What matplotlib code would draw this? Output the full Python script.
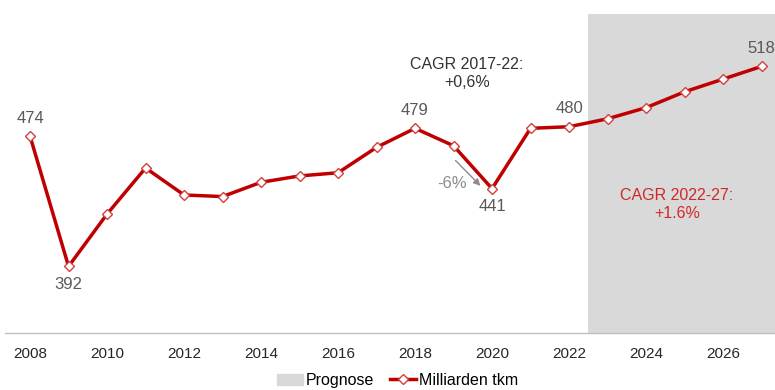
import numpy as np
import matplotlib.pyplot as plt
from matplotlib.patches import Patch
from matplotlib.lines import Line2D

plt.rcParams['font.family'] = ['Liberation Sans', 'DejaVu Sans']

# Data
years = np.arange(2008, 2028)
tkm = np.array([474, 392, 425, 454, 437, 436, 445, 449, 451, 467,
                479, 468, 441, 479, 480, 485, 492, 502, 510, 518])
label_years = [2008, 2009, 2018, 2020, 2022, 2027]
tick_years = np.arange(2008, 2027, 2)
forecast_start = 2022.5

red = '#c00000'
grey_txt = '#595959'

fig = plt.figure(figsize=(7.75, 3.9), dpi=100)
ax = fig.add_axes([0.0065, 0.146, 0.9935, 0.818])

# forecast region
ax.axvspan(forecast_start, 2027.35, color='#d9d9d9', lw=0, zorder=0)

ax.plot(years, tkm, color=red, lw=2.5, marker='D', ms=5.5,
        mfc='white', mec='#d04040', mew=1, zorder=3)

# data labels
for yr in label_years:
    v = tkm[years == yr][0]
    below = yr in (2009, 2020)
    off = -13 if below else 13
    ax.annotate(str(v), (yr, v), xytext=(0, off), textcoords='offset points',
                ha='center', va='center', fontsize=12, color=grey_txt)

# CAGR texts
ax.text(2019.35, 513.5, 'CAGR 2017-22:\n+0,6%', ha='center', va='center',
        fontsize=11.5, color='#333333', linespacing=1.3)
ax.text(2024.8, 431, 'CAGR 2022-27:\n+1.6%', ha='center', va='center',
        fontsize=11.5, color='#d02828', linespacing=1.3)

# -6% arrow
ax.annotate('', xy=(2019.75, 441.5), xytext=(2019.0, 460),
            arrowprops=dict(arrowstyle='-|>', color='#8c8c8c', lw=1,
                            mutation_scale=10))
ax.text(2018.95, 444, '-6%', ha='center', va='center', fontsize=12,
        color='#8c8c8c')

ax.set_xlim(2007.35, 2027.35)
ax.set_ylim(350, 551)
ax.set_yticks([])
ax.set_xticks(tick_years)
ax.tick_params(axis='x', length=0, pad=10, labelsize=11, labelcolor='#262626')
for s in ['top', 'left', 'right']:
    ax.spines[s].set_visible(False)
ax.spines['bottom'].set_color('#bfbfbf')
ax.spines['bottom'].set_linewidth(1)

handles = [Patch(color='#d9d9d9', label='Prognose'),
           Line2D([], [], color=red, lw=2.5, marker='D', ms=5.5, mfc='white',
                  mec='#d04040', label='Milliarden tkm')]
fig.legend(handles=handles, loc='center', bbox_to_anchor=(0.513, 0.025),
           ncol=2, frameon=False, fontsize=11.5,
           handlelength=1.6, handletextpad=0.2, columnspacing=1.0)

fig.savefig('out.png', dpi=100)
